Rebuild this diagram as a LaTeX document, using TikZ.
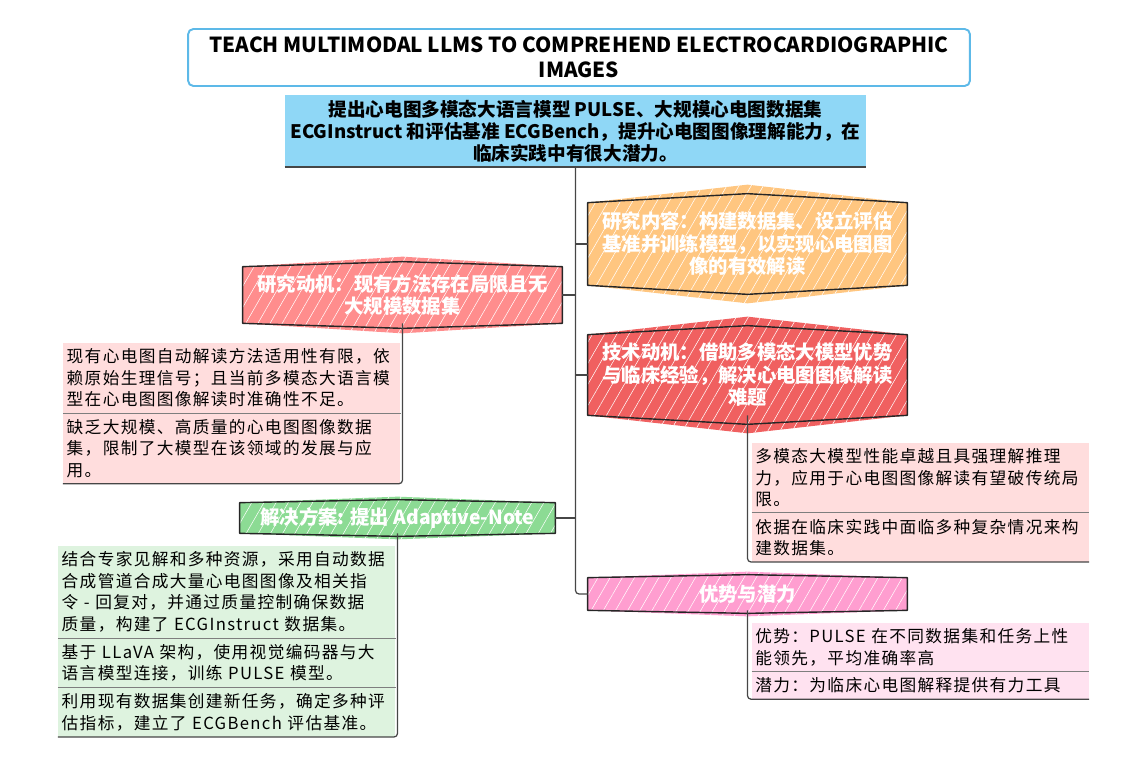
\documentclass[tikz,border=0pt]{standalone}
\usepackage{fontspec}
\setmainfont{Noto Sans CJK SC}
\usetikzlibrary{positioning,backgrounds,calc,patterns.meta}
\definecolor{TitleBlue}{RGB}{93,185,232}
\definecolor{RootBlue}{RGB}{143,215,246}
\definecolor{MotiveRed}{RGB}{255,141,141}
\definecolor{ContentOrange}{RGB}{255,198,128}
\definecolor{TechRed}{RGB}{240,96,96}
\definecolor{PlanGreen}{RGB}{140,219,148}
\definecolor{GainPink}{RGB}{255,158,208}
\definecolor{LeafRed}{RGB}{255,221,221}
\definecolor{LeafGreen}{RGB}{222,243,223}
\definecolor{LeafPink}{RGB}{255,226,240}
\definecolor{LineGray}{RGB}{70,70,70}
\tikzset{
  titlebox/.style={draw=TitleBlue,line width=1.1pt,rounded corners=3pt,fill=white,align=center,font=\bfseries\fontsize{11.8}{14.5}\selectfont,minimum width=15.64cm,minimum height=1.14cm},
  rootbox/.style={fill=RootBlue,align=center,font=\bfseries\fontsize{10.6}{12.5}\selectfont,minimum width=11.62cm,minimum height=1.44cm,inner sep=0pt},
  branch/.style={align=center,text=white,font=\bfseries\fontsize{11}{12.8}\selectfont,inner sep=0pt,minimum width=6.38cm},
  leaf/.style={align=left,text width=6.6cm,inner xsep=2pt,inner ysep=3.2pt,font=\fontsize{9.5}{12.3}\selectfont\addfontfeature{LetterSpace=8}},
  link/.style={draw=LineGray,line width=0.7pt},
  sepline/.style={draw=LineGray!70,line width=0.6pt},
}
\begin{document}
\begin{tikzpicture}[x=0.02cm,y=-0.02cm]
  \useasboundingbox (0,0) rectangle (1145,770);
  \node[titlebox] (title) at (579,57.5) {TEACH MULTIMODAL LLMS TO COMPREHEND ELECTROCARDIOGRAPHIC\\IMAGES};
  \node[rootbox] (root) at (575.5,131) {提出心电图多模态大语言模型 PULSE、大规模心电图数据集\\ECGInstruct 和评估基准 ECGBench，提升心电图图像理解能力，在\\临床实践中有很大潜力。};
  \draw[LineGray,line width=1.2pt] (root.south west) -- (root.south east);

  % branches
  \node[branch,minimum height=1.64cm] (neirong) at (747.5,244) {研究内容：构建数据集、设立评估\\基准并训练模型，以实现心电图图\\像的有效解读};
  \node[branch,minimum height=1.12cm] (dongji) at (402.5,295) {研究动机：现有方法存在局限且无\\大规模数据集};
  \node[branch,minimum height=1.6cm] (jishu) at (747.5,375) {技术动机：借助多模态大模型优势\\与临床经验，解决心电图图像解读\\难题};
  \node[branch,minimum width=6.3cm,minimum height=0.6cm] (fangan) at (397.5,518) {解决方案: 提出 Adaptive-Note};
  \node[branch,minimum height=0.64cm] (youshi) at (747.5,594) {优势与潜力};
  \begin{scope}[on background layer]
    \foreach \n/\c/\pk in {neirong/ContentOrange/9, dongji/MotiveRed/5, jishu/TechRed/9, fangan/PlanGreen/3, youshi/GainPink/3}{
      \fill[fill=\c,postaction={fill opacity=0.2,pattern={Lines[angle=60,distance=6pt,line width=0.3pt]},pattern color=white}]
        (\n.north west) -- ($(\n.north)+(0,-2*\pk)$) -- (\n.north east) -- (\n.south east) -- ($(\n.south)+(0,2*\pk)$) -- (\n.south west) -- cycle;
      \draw[black!85,line width=0.8pt,line join=round]
        (\n.north west) -- ($(\n.north)+(0,-\pk)$) -- (\n.north east) -- (\n.south east) -- ($(\n.south)+(0,\pk)$) -- (\n.south west) -- cycle;
    }
  \end{scope}

  % trunk
  \draw[link,rounded corners=2pt] (root.south) |- (youshi.west);
  \draw[link] (neirong.west -| root.south) -- (neirong.west);
  \draw[link] (dongji.east -| root.south) -- (dongji.east);
  \draw[link] (jishu.west -| root.south) -- (jishu.west);
  \draw[link] (fangan.east -| root.south) -- (fangan.east);

  % leaves
  \node[leaf,fill=LeafRed,below left=0.38cm and 0.04cm of dongji.south] (dj1) {现有心电图自动解读方法适用性有限，依\\赖原始生理信号；且当前多模态大语言模\\型在心电图图像解读时准确性不足。};
  \node[leaf,fill=LeafRed,below=0pt of dj1] (dj2) {缺乏大规模、高质量的心电图图像数据\\集，限制了大模型在该领域的发展与应\\用。};
  \draw[link,rounded corners=2pt] (dongji.south) |- (dj2.south west);
  \draw[sepline] (dj1.south west) -- (dj1.south east);

  \node[leaf,fill=LeafRed,below right=0.54cm and 0.08cm of jishu.south] (js1) {多模态大模型性能卓越且具强理解推理\\力，应用于心电图图像解读有望破传统局\\限。};
  \node[leaf,fill=LeafRed,below=0pt of js1] (js2) {依据在临床实践中面临多种复杂情况来构\\建数据集。};
  \draw[link,rounded corners=2pt] (jishu.south) |- (js2.south east);
  \draw[sepline] (js1.south west) -- (js1.south east);

  \node[leaf,fill=LeafGreen,below left=0.24cm and 0.04cm of fangan.south] (fa1) {结合专家见解和多种资源，采用自动数据\\合成管道合成大量心电图图像及相关指\\令 - 回复对，并通过质量控制确保数据\\质量，构建了 ECGInstruct 数据集。};
  \node[leaf,fill=LeafGreen,below=0pt of fa1] (fa2) {基于 LLaVA 架构，使用视觉编码器与大\\语言模型连接，训练 PULSE 模型。};
  \node[leaf,fill=LeafGreen,below=0pt of fa2] (fa3) {利用现有数据集创建新任务，确定多种评\\估指标，建立了 ECGBench 评估基准。};
  \draw[link,rounded corners=2pt] (fangan.south) |- (fa3.south west);
  \draw[sepline] (fa1.south west) -- (fa1.south east);
  \draw[sepline] (fa2.south west) -- (fa2.south east);

  \node[leaf,fill=LeafPink,below right=0.24cm and 0.08cm of youshi.south] (ys1) {优势：PULSE 在不同数据集和任务上性\\能领先，平均准确率高};
  \node[leaf,fill=LeafPink,below=0pt of ys1] (ys2) {潜力：为临床心电图解释提供有力工具};
  \draw[link,rounded corners=2pt] (youshi.south) |- (ys2.south east);
  \draw[sepline] (ys1.south west) -- (ys1.south east);
\end{tikzpicture}
\end{document}
